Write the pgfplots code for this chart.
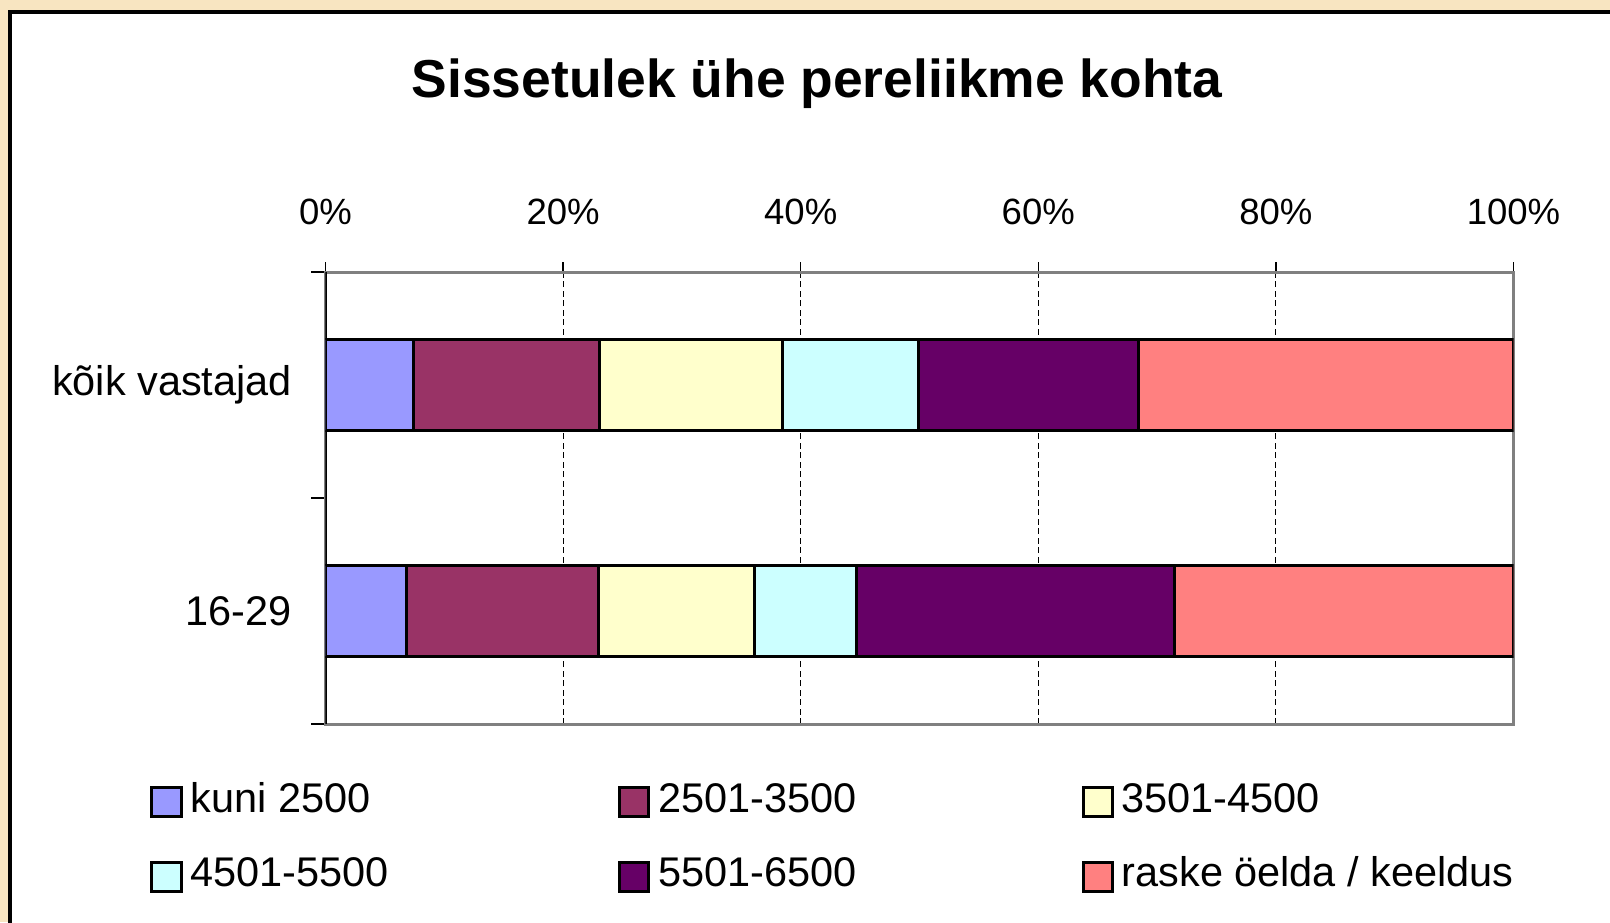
\documentclass[border=0pt]{standalone}
\usepackage{pgfplots}
\pgfplotsset{compat=1.18}
\usepackage{pgfplotstable}
\usepackage{fontspec}
\setmainfont{Liberation Sans}
\definecolor{bgbeige}{RGB}{248,229,193}
\definecolor{cA}{HTML}{9999FF}
\definecolor{cB}{HTML}{993366}
\definecolor{cC}{HTML}{FFFFCC}
\definecolor{cD}{HTML}{CCFFFF}
\definecolor{cE}{HTML}{660066}
\definecolor{cF}{HTML}{FF8080}
\pgfplotstableread{
y c1 c2 c3 c4 c5 c6
0 6.8 16.2 13.1 8.6 26.8 28.5
1 7.4 15.7 15.4 11.4 18.5 31.6
}\datatable
\begin{document}
\begin{tikzpicture}
\begin{scope}[x=0.1mm,y=-0.1mm]
\useasboundingbox (0,0) rectangle (1610,922);
\fill[bgbeige] (0,0) rectangle (1610,922);
\draw[fill=white, line width=0.4mm] (10.3,12) rectangle (1700,1000);
\node[anchor=base, font=\fontsize{15.2}{18}\selectfont\bfseries] at (817,97.5) {Sissetulek ühe pereliikme kohta};
\end{scope}
\begin{axis}[
  at={(32.55mm,-72.4mm)}, anchor=south west,
  scale only axis, width=118.8mm, height=45.2mm,
  xbar stacked, bar width=0.4,
  xmin=0, xmax=100, ymin=-0.5, ymax=1.5,
  xtick={0,20,...,100},
  xticklabel={\pgfmathprintnumber{\tick}\%},
  /pgf/number format/assume math mode=true,
  xtick pos=upper, xticklabel pos=upper,
  ytick={0,1}, yticklabels={16-29, kõik vastajad},
  ytick pos=left,
  minor ytick={-0.5,0.5,1.5},
  tick align=outside,
  major tick length=1mm, minor tick length=1.4mm,
  every major y tick/.append style={draw=none},
  every minor y tick/.append style={black, line width=0.15mm},
  every major x tick/.append style={black, line width=0.15mm},
  axis line style={draw=gray, line width=0.3mm},
  xmajorgrids,
  major x grid style={black, line width=0.1mm, dash pattern=on 0.6mm off 0.35mm},
  x tick label style={font=\fontsize{10.4}{12}\selectfont, anchor=base, inner sep=0pt, yshift=3.8mm},
  y tick label style={font=\fontsize{11.8}{14}\selectfont, anchor=east, inner sep=0pt, xshift=-2.3mm},
  every axis plot/.append style={draw=black, line width=0.3mm},
]
\addplot[fill=cA] table[x=c1,y=y] {\datatable};
\addplot[fill=cB] table[x=c2,y=y] {\datatable};
\addplot[fill=cC] table[x=c3,y=y] {\datatable};
\addplot[fill=cD] table[x=c4,y=y] {\datatable};
\addplot[fill=cE] table[x=c5,y=y] {\datatable};
\addplot[fill=cF] table[x=c6,y=y] {\datatable};
\draw[black, line width=0.25mm] (axis cs:0,-0.5) -- (axis cs:0,1.5);
\end{axis}
\begin{scope}[x=0.1mm,y=-0.1mm,font=\fontsize{11.8}{14}\selectfont]
\draw[fill=cA, line width=0.3mm] (151.7,787.5) rectangle (181,816.5);
\node[anchor=base west, inner sep=0pt] at (190,812) {kuni 2500};
\draw[fill=cB, line width=0.3mm] (619,787.5) rectangle (648,816.5);
\node[anchor=base west, inner sep=0pt] at (658,812) {2501-3500};
\draw[fill=cC, line width=0.3mm] (1083,787.5) rectangle (1112,816.5);
\node[anchor=base west, inner sep=0pt] at (1121,812) {3501-4500};
\draw[fill=cD, line width=0.3mm] (151.7,862) rectangle (181,891);
\node[anchor=base west, inner sep=0pt] at (190,886) {4501-5500};
\draw[fill=cE, line width=0.3mm] (619,862) rectangle (648,891);
\node[anchor=base west, inner sep=0pt] at (658,886) {5501-6500};
\draw[fill=cF, line width=0.3mm] (1083,862) rectangle (1112,891);
\node[anchor=base west, inner sep=0pt] at (1121,886) {raske öelda / keeldus};
\end{scope}
\end{tikzpicture}
\end{document}
